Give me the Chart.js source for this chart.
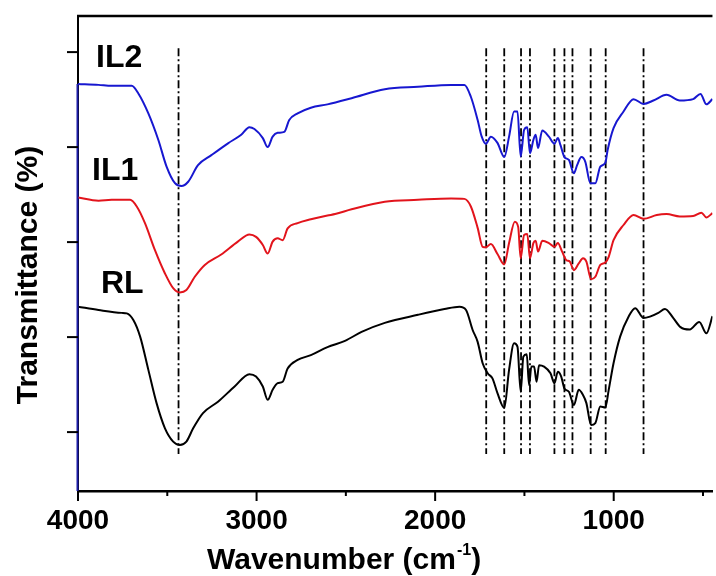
<!DOCTYPE html>
<html>
<head>
<meta charset="utf-8">
<script src="https://cdn.jsdelivr.net/npm/chart.js@4.4.1/dist/chart.umd.min.js"></script>
<style>
  html, body { margin: 0; padding: 0; background: #fff; }
  #wrap { width: 716px; height: 576px; position: relative; }
</style>
</head>
<body>
<div id="wrap"><canvas id="ftirChart"></canvas></div>
<script>
/* ================================
   DATA
================================ */
const wavenumberTicks = [4000, 3500, 3000, 2500, 2000, 1500, 1000, 500];
const transmittanceTicks = [12.4, 32.4, 52.4, 72.4, 92.4];
const peakLines = [3437, 1714, 1613, 1519, 1469, 1332, 1276, 1231, 1129, 1045, 833];
const peakLineRange = [7.8, 93.2];

const wnIL2 = [4000, 3885, 3811, 3699, 3662, 3606, 3550, 3504, 3457, 3421, 3383, 3328, 3253, 3160, 3086, 3040,
  3012, 2965, 2938, 2910, 2882, 2845, 2817, 2770, 2696, 2603, 2468, 2282, 2096, 1911, 1836, 1800, 1762, 1740,
  1716, 1688, 1651, 1613, 1586, 1558, 1539, 1521, 1502, 1484, 1469, 1450, 1437, 1424, 1400, 1363, 1332, 1313,
  1298, 1276, 1251, 1223, 1205, 1181, 1159, 1131, 1103, 1075, 1047, 1034, 1001, 945, 889, 833, 778, 704, 630,
  555, 514, 481, 447];
const tIL2 = [85.7, 85.5, 85.3, 85.3, 83.7, 79.5, 73.9, 68.3, 64.8, 64.2, 65.1, 68.6, 70.7, 73.2, 75.0, 76.6,
  76.2, 74.3, 72.4, 74.6, 75.4, 75.6, 78.1, 79.5, 80.7, 81.4, 82.7, 84.6, 85.1, 85.5, 85.5, 83.0, 78.1, 74.7,
  73.1, 74.6, 73.3, 70.3, 74.6, 79.9, 79.9, 70.4, 76.0, 76.6, 71.1, 73.9, 75.0, 72.2, 75.9, 74.6, 73.1, 74.3,
  72.8, 70.3, 69.7, 66.9, 68.6, 70.3, 69.3, 64.8, 64.8, 68.3, 69.1, 71.8, 76.4, 79.9, 82.5, 81.5, 82.2, 83.4,
  82.2, 82.5, 83.6, 81.4, 82.5];

const wnIL1 = [4000, 3885, 3811, 3708, 3671, 3625, 3569, 3513, 3467, 3430, 3393, 3346, 3290, 3198, 3105, 3040,
  3003, 2965, 2938, 2910, 2882, 2854, 2826, 2770, 2696, 2603, 2560, 2468, 2282, 2096, 1911, 1836, 1800, 1762,
  1734, 1716, 1688, 1651, 1613, 1586, 1554, 1535, 1521, 1502, 1484, 1469, 1450, 1437, 1424, 1400, 1363, 1332,
  1313, 1289, 1265, 1246, 1223, 1196, 1172, 1153, 1127, 1103, 1075, 1047, 1028, 1001, 945, 889, 833, 759, 704,
  630, 555, 509, 481, 447];
const tIL1 = [61.8, 61.1, 61.3, 61.3, 59.9, 56.4, 50.7, 45.8, 42.7, 41.8, 42.3, 45.1, 47.6, 49.8, 52.5, 54.0,
  53.5, 51.8, 50.0, 52.5, 53.2, 52.8, 55.3, 56.4, 57.2, 58.0, 58.3, 59.3, 60.9, 61.3, 61.6, 61.5, 59.9, 55.4,
  51.4, 51.3, 52.0, 49.9, 47.7, 52.2, 56.7, 55.6, 49.0, 53.9, 54.1, 49.0, 52.2, 52.7, 50.4, 52.7, 52.2, 51.4,
  52.2, 50.4, 48.6, 48.3, 46.5, 47.9, 49.0, 48.3, 44.6, 45.1, 47.6, 48.1, 49.3, 52.8, 56.0, 58.1, 57.3, 58.1,
  58.3, 57.8, 57.9, 58.6, 57.6, 58.5];

const wnRL = [4000, 3885, 3755, 3727, 3690, 3652, 3606, 3560, 3513, 3467, 3430, 3393, 3355, 3300, 3216, 3123,
  3040, 3003, 2965, 2938, 2910, 2882, 2854, 2826, 2770, 2696, 2603, 2505, 2412, 2282, 2096, 1948, 1864, 1827,
  1790, 1762, 1734, 1706, 1679, 1651, 1613, 1586, 1558, 1539, 1521, 1506, 1487, 1474, 1461, 1446, 1432, 1418,
  1390, 1354, 1332, 1313, 1294, 1276, 1251, 1223, 1196, 1172, 1153, 1127, 1103, 1075, 1047, 1028, 1001, 964,
  917, 880, 833, 797, 750, 713, 666, 626, 574, 521, 481, 447];
const tRL = [38.8, 38.1, 37.5, 37.4, 36.0, 32.5, 25.5, 18.5, 13.2, 10.4, 9.7, 10.4, 13.2, 16.4, 18.8, 22.0,
  24.6, 24.1, 22.0, 19.2, 21.3, 22.7, 23.0, 25.8, 27.6, 28.6, 30.3, 31.6, 33.5, 35.4, 37.1, 38.3, 38.8, 38.1,
  33.9, 31.4, 26.9, 24.8, 23.7, 20.6, 17.5, 25.5, 31.1, 30.4, 20.9, 28.3, 28.8, 22.3, 26.2, 26.2, 23.0, 26.5,
  26.2, 24.8, 22.7, 25.1, 24.1, 21.6, 20.9, 18.1, 21.3, 20.2, 18.5, 13.9, 14.3, 17.8, 17.6, 21.3, 26.9, 32.5,
  36.7, 38.5, 36.4, 36.7, 37.5, 38.3, 36.4, 34.5, 34.0, 35.6, 33.2, 36.8];

const seriesLabels = ['IL2', 'IL1', 'RL'];
const seriesColors = ['#1717d0', '#e2141c', '#000000'];

/* ================================
   HELPERS
================================ */
const FONT = "'Liberation Sans', Arial, sans-serif";
const toPoints = (xs, ys) => xs.map((x, i) => ({ x, y: ys[i] }));

function spectrum(label, xs, ys, color) {
    return {
        label,
        data: toPoints(xs, ys),
        borderColor: color,
        borderWidth: 2,
        pointRadius: 0,
        cubicInterpolationMode: 'monotone',
        fill: false
    };
}

function peakLine(w) {
    return {
        label: 'peak ' + w,
        data: [{ x: w, y: peakLineRange[1] }, { x: w, y: peakLineRange[0] }],
        borderColor: '#000',
        borderWidth: 1.8,
        borderDash: [8, 3, 2, 3],
        pointRadius: 0,
        fill: false
    };
}

// frame, tick marks, curve names and axis titles
const decorations = {
    id: 'decorations',
    afterDraw(chart) {
        const { ctx, chartArea: area, scales: { x, y } } = chart;
        ctx.save();

        // top frame line
        ctx.strokeStyle = '#000';
        ctx.lineWidth = 2.5;
        ctx.beginPath();
        ctx.moveTo(area.left - 1, area.top);
        ctx.lineTo(area.right, area.top);
        ctx.stroke();

        // blue part of the left axis, below where IL2 starts
        ctx.strokeStyle = '#1c1ca8';
        ctx.lineWidth = 2;
        ctx.beginPath();
        ctx.moveTo(area.left - 0.5, y.getPixelForValue(tIL2[0]));
        ctx.lineTo(area.left - 0.5, area.bottom);
        ctx.stroke();

        // x tick marks (long at 1000s, short at 500s)
        ctx.strokeStyle = '#000';
        ctx.lineWidth = 2;
        wavenumberTicks.forEach(w => {
            const px = x.getPixelForValue(w);
            const len = w % 1000 === 0 ? 10 : 5;
            ctx.beginPath();
            ctx.moveTo(px, area.bottom);
            ctx.lineTo(px, area.bottom + len);
            ctx.stroke();
        });

        // y tick marks
        transmittanceTicks.forEach(t => {
            const py = y.getPixelForValue(t);
            ctx.beginPath();
            ctx.moveTo(area.left - 11, py);
            ctx.lineTo(area.left, py);
            ctx.stroke();
        });

        // curve names
        ctx.fillStyle = '#000';
        ctx.font = `bold 32px ${FONT}`;
        ctx.textAlign = 'left';
        ctx.textBaseline = 'alphabetic';
        ctx.fillText(seriesLabels[0], 96, 67);
        ctx.fillText(seriesLabels[1], 92, 180);
        ctx.fillText(seriesLabels[2], 101, 293);

        // x title with superscript
        const base = 569;
        let tx = 207;
        ctx.font = `bold 30px ${FONT}`;
        ctx.fillText('Wavenumber (cm', tx, base);
        tx += ctx.measureText('Wavenumber (cm').width;
        ctx.font = `bold 16px ${FONT}`;
        ctx.fillText('-1', tx + 1, base - 14);
        tx += ctx.measureText('-1').width + 1;
        ctx.font = `bold 30px ${FONT}`;
        ctx.fillText(')', tx, base);

        // y title
        ctx.translate(29, 275);
        ctx.rotate(-Math.PI / 2);
        ctx.textAlign = 'center';
        ctx.textBaseline = 'middle';
        ctx.fillText('Transmittance (%)', 0, 0);

        ctx.restore();
    }
};

/* ================================
   CHART
================================ */
new Chart(document.getElementById('ftirChart'), {
    type: 'line',
    data: {
        datasets: [
            spectrum(seriesLabels[2], wnRL, tRL, seriesColors[2]),
            spectrum(seriesLabels[1], wnIL1, tIL1, seriesColors[1]),
            spectrum(seriesLabels[0], wnIL2, tIL2, seriesColors[0]),
            ...peakLines.map(peakLine)
        ]
    },
    options: {
        responsive: true,
        maintainAspectRatio: false,
        animation: false,
        layout: { padding: { top: 16, left: 0, right: 0, bottom: 0 } },
        plugins: { legend: { display: false }, tooltip: { enabled: false } },
        scales: {
            x: {
                type: 'linear',
                reverse: true,
                min: 447,
                max: 4000,
                afterBuildTicks: scale => { scale.ticks = wavenumberTicks.map(v => ({ value: v })); },
                afterFit: scale => { scale.height = 85; },
                grid: { display: false, drawTicks: false },
                border: { display: true, color: '#000', width: 2.5 },
                ticks: {
                    autoSkip: false,
                    maxRotation: 0,
                    padding: 13,
                    color: '#000',
                    font: { family: FONT, size: 28, weight: 'bold' },
                    callback: v => (v % 1000 === 0 ? String(v) : '')
                }
            },
            y: {
                type: 'linear',
                min: 0,
                max: 100,
                afterFit: scale => { scale.width = 78; },
                grid: { display: false, drawTicks: false },
                border: { display: true, color: '#000', width: 2 },
                ticks: { display: false }
            }
        }
    },
    plugins: [decorations]
});
</script>
</body>
</html>
